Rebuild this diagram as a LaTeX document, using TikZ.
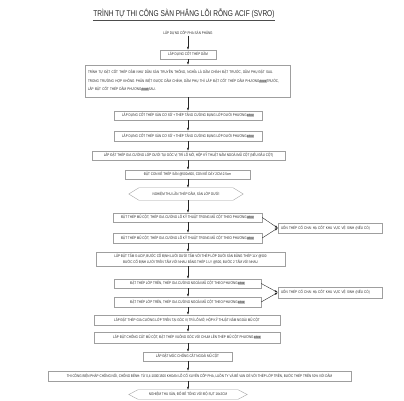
\documentclass[tikz,border=0pt]{standalone}
\usepackage{fontspec}
\setmainfont{Liberation Sans}
\newfontfamily\bxf[FakeStretch=0.8]{Liberation Sans}
\newfontfamily\ttlf[FakeStretch=0.78]{Liberation Sans}
\usetikzlibrary{arrows.meta}
\newcommand\hlmark{{\setlength\fboxsep{0.2pt}\colorbox{gray!45}{\#\#\#\#}}}
\tikzset{
  bx/.style={draw=gray!75, line width=0.35pt, inner sep=0.5pt, font={\bxf\fontsize{3.8}{4.6}\selectfont}, text=black!85},
  plain/.style={inner sep=0.5pt, font={\bxf\fontsize{3.8}{4.6}\selectfont}, text=black!85},
  arr/.style={-{Latex[length=3pt,width=2.2pt]}, line width=0.4pt, black!85},
  hexline/.style={draw=gray!75, line width=0.35pt}
}
\begin{document}
\begin{tikzpicture}[x=1pt,y=-1pt]
\useasboundingbox (0,0) rectangle (404,400);
\coordinate (sp) at (188,0);
% title
\node[inner sep=0.5pt, font={\ttlf\fontsize{8.4}{9}\selectfont}, text=black!85] (title) at (184,14) {TRÌNH TỰ THI CÔNG SÀN PHẲNG LÕI RỖNG ACIF (SVRO)};
\draw[line width=0.4pt, black!70] ([yshift=-1pt]title.south west) -- ([yshift=-1pt]title.south east);
% main chain
\node[plain] (s0) at (188,33) {LẮP DỰNG CỐP PHA SÀN PHẲNG};
\node[bx, minimum width=56pt, minimum height=9pt] (b1) at (188,54.5) {LẮP DỰNG CỐT THÉP DẦM};
\node[bx, minimum height=32pt, inner xsep=3pt, text width=199pt, align=left, font={\bxf\fontsize{3.8}{8.5}\selectfont}] (b2) at (187.5,81) {TRÌNH TỰ ĐẶT CỐT THÉP DẦM NHƯ DẦM SÀN TRUYỀN THỐNG, NGHĨA LÀ DẦM CHÍNH ĐẶT TRƯỚC, DẦM PHỤ ĐẶT SAU.\\TRONG TRƯỜNG HỢP KHÔNG PHÂN BIỆT ĐƯỢC DẦM CHÍNH, DẦM PHỤ THÌ LẮP ĐẶT CỐT THÉP DẦM PHƯƠNG\hlmark TRƯỚC,\\LẮP ĐẶT CỐT THÉP DẦM PHƯƠNG\hlmark SAU.};
\node[bx, minimum width=148pt, minimum height=9pt] (b3) at (188,115.5) {LẮP DỰNG CỐT THÉP SÀN CƠ SỞ + THÉP TĂNG CƯỜNG BỤNG LỚP DƯỚI PHƯƠNG\hlmark};
\node[bx, minimum width=148pt, minimum height=10pt] (b4) at (188,136) {LẮP DỰNG CỐT THÉP SÀN CƠ SỞ + THÉP TĂNG CƯỜNG BỤNG LỚP DƯỚI PHƯƠNG\hlmark};
\node[bx, minimum width=193pt, minimum height=9pt] (b5) at (188.5,155.5) {LẮP ĐẶT THÉP GIA CƯỜNG LỚP DƯỚI TẠI GÓC VỊ TRÍ LỖ MỞ, HỘP KỸ THUẬT NẰM NGOÀI MŨ CỘT (NẾU ĐẦU CỘT)};
\node[bx, minimum width=125pt, minimum height=9pt] (b6) at (187.5,174.5) {ĐẶT CON KÊ THÉP SÀN @500x500, CON KÊ DÀY 2CM-2.5cm};
\node[plain, minimum width=114pt, minimum height=12pt] (h1) at (186,194) {NGHIỆM THU LẦN THÉP DẦM, SÀN LỚP DƯỚI};
\draw[hexline] (h1.west) -- ([xshift=10pt]h1.north west) -- ([xshift=-10pt]h1.north east) -- (h1.east) -- ([xshift=-10pt]h1.south east) -- ([xshift=10pt]h1.south west) -- cycle;
\node[bx, minimum width=149pt, minimum height=9pt] (b8) at (187.5,217.5) {ĐẶT THÉP MŨ CỘT, THÉP GIA CƯỜNG LỖ KỸ THUẬT TRONG MŨ CỘT THEO PHƯƠNG\hlmark};
\node[bx, minimum width=149pt, minimum height=10pt] (b9) at (187.5,238) {ĐẶT THÉP MŨ CỘT, THÉP GIA CƯỜNG LỖ KỸ THUẬT TRONG MŨ CỘT THEO PHƯƠNG\hlmark};
\node[bx, minimum width=104pt, minimum height=10pt, text width=98pt, align=left, inner xsep=3pt] (s1) at (330,228) {UỐN THÉP CỔ CHAI HẠ CỐT KHU VỰC VỆ SINH (NẾU CÓ)};
\node[bx, minimum width=189pt, minimum height=14pt, align=center, font={\bxf\fontsize{3.8}{5.2}\selectfont}] (b10) at (190.5,259) {LẮP ĐẶT TẤM S-ACIF, BƯỚC CỐ ĐỊNH LƯỚI DƯỚI TẤM VỚI THÉP LỚP DƯỚI SÀN BẰNG THÉP 1LY @500\\BƯỚC CỐ ĐỊNH LƯỚI TRÊN TẤM VỚI NHAU BẰNG THÉP 1 LY @500, BƯỚC 2 TẤM VỚI NHAU};
\node[bx, minimum width=147pt, minimum height=9pt] (b11) at (187.5,283.5) {ĐẶT THÉP LỚP TRÊN, THÉP GIA CƯỜNG NGOÀI MŨ CỘT THEO PHƯƠNG\hlmark};
\node[bx, minimum width=147pt, minimum height=10pt] (b12) at (187.5,302) {ĐẶT THÉP LỚP TRÊN, THÉP GIA CƯỜNG NGOÀI MŨ CỘT THEO PHƯƠNG\hlmark};
\node[bx, minimum width=104pt, minimum height=11pt, text width=98pt, align=left, inner xsep=3pt] (s2) at (330,292.5) {UỐN THÉP CỔ CHAI HẠ CỐT KHU VỰC VỆ SINH (NẾU CÓ)};
\node[bx, minimum width=186pt, minimum height=10pt] (b13) at (187,320) {LẮP ĐẶT THÉP GIA CƯỜNG LỚP TRÊN TẠI GÓC VỊ TRÍ LỖ MỞ, HỘP KỸ THUẬT NẰM NGOÀI MŨ CỘT};
\node[bx, minimum width=186pt, minimum height=11pt] (b14) at (187,337.5) {LẮP ĐẶT CHỐNG CẮT MŨ CỘT, ĐẶT THÉP VUÔNG GÓC VỚI CHUM LÊN THÉP MŨ CỘT PHƯƠNG\hlmark};
\node[bx, minimum width=89pt, minimum height=9pt] (b15) at (187.5,356.5) {LẮP ĐẶT MÓC CHỐNG CẮT NGOÀI MŨ CỘT};
\node[bx, minimum width=303pt, minimum height=10pt] (b16) at (199.5,376) {THI CÔNG BIỆN PHÁP CHỐNG NỔI, CHỐNG BÊNH: TỪ 0,4-1000/1500 KHOAN LỖ CỐ XUYÊN CỐP PHA, LUỒN TY VÀ BẺ VAN OÉ VỚI THÉP LỚP TRÊN, BƯỚC THÉP TRÊN 50\% VỚI DẦM};
\node[plain, minimum width=118pt, minimum height=9pt] (h2) at (188,394.5) {NGHIỆM THU SÀN, ĐỔ BÊ TÔNG VỚI ĐỘ SỤT 16±2CM};
\draw[hexline] (h2.west) -- ([xshift=9pt]h2.north west) -- ([xshift=-9pt]h2.north east) -- (h2.east) -- ([xshift=-9pt]h2.south east) -- ([xshift=9pt]h2.south west) -- cycle;
% connectors
\foreach \a/\b in {s0/b1,b1/b2,b2/b3,b3/b4,b4/b5,b5/b6,b6/h1,h1/b8,b8/b9,b9/b10,b10/b11,b11/b12,b12/b13,b13/b14,b14/b15,b15/b16,b16/h2}
  \draw[arr] (\a.south -| sp) -- (\b.north -| sp);
\draw[arr] (b8.east) -- (s1.west);
\draw[arr] (b9.east) -- (s1.west);
\draw[arr] (b11.east) -- (s2.west);
\draw[arr] (b12.east) -- (s2.west);
\end{tikzpicture}
\end{document}
